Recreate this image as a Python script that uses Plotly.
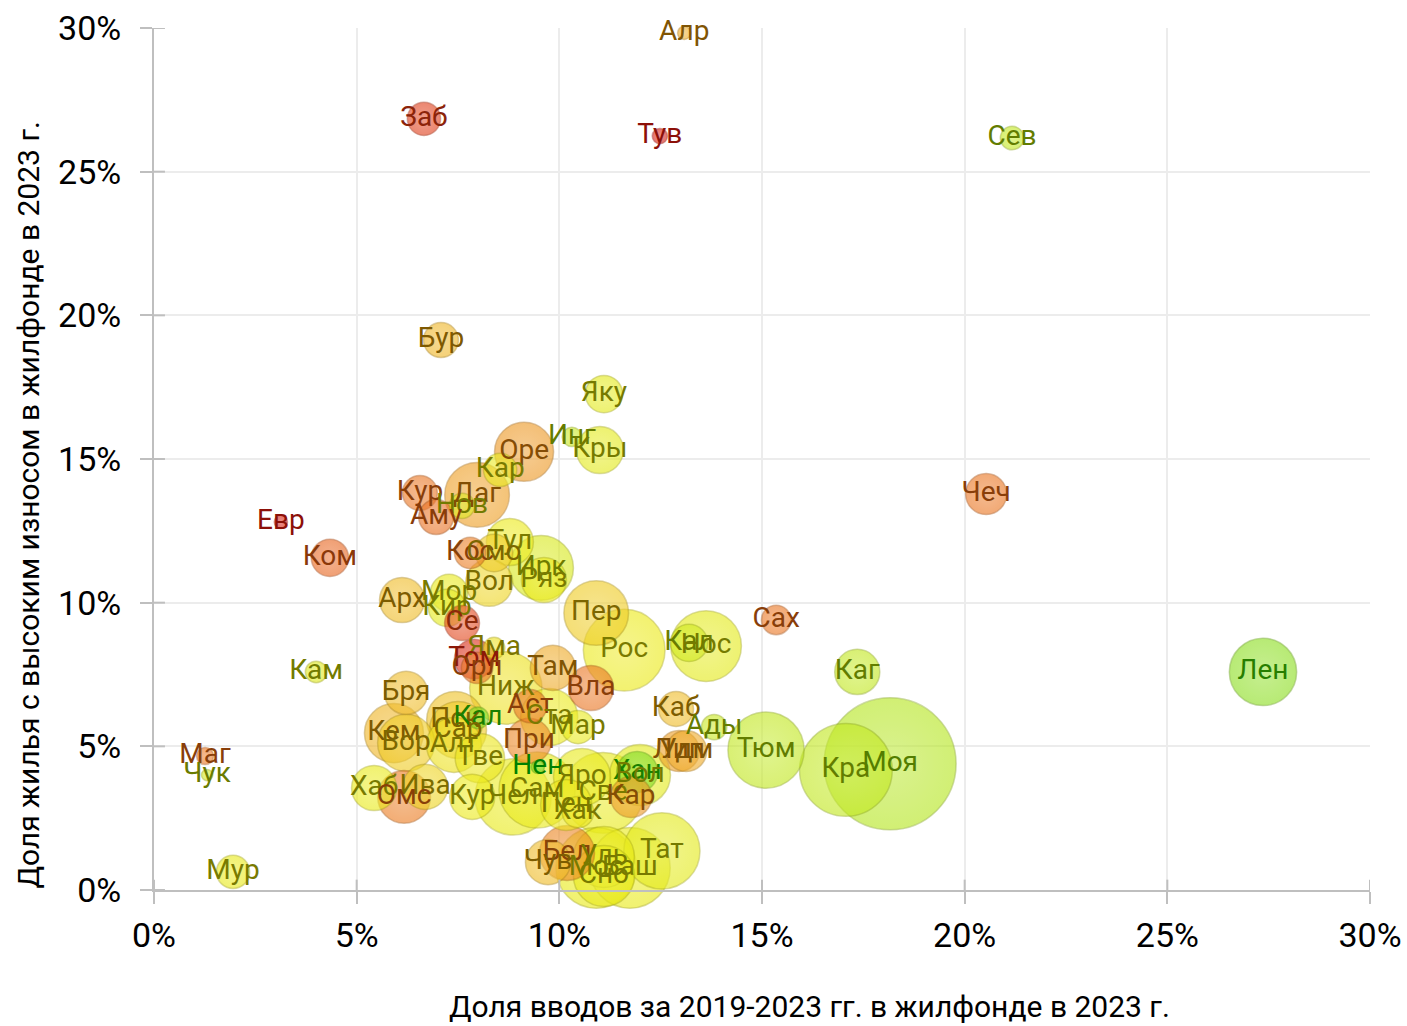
import plotly.graph_objects as go

# Регионы: сокращение, доля вводов 2019-2023 (%), доля ветхого жилья (%),
# жилфонд (условные единицы, задаёт площадь пузыря), цветовой индекс 0..1
regions = ["Алр", "Заб", "Тув", "Сев", "Бур", "Яку", "Инг", "Кры", "Оре", "Кар",
           "Даг", "Кур", "Нов", "Аму", "Евр", "Ком", "Тул", "Кос", "Смо", "Ирк",
           "Ряз", "Вол", "Арх", "Мор", "Кир", "Пер", "Рос", "Се", "Яма", "Том",
           "Орл", "Там", "Ниж", "Вла", "Кал", "Нос", "Сах", "Каг", "Лен", "Кам",
           "Бря", "Пск", "Кал", "Сар", "Аст", "Ста", "Мар", "Каб", "Ады", "Кем",
           "Вор", "Алт", "При", "Тве", "Лип", "Удм", "Тюм", "Кра", "Моя", "Маг",
           "Чук", "Мур", "Нен", "Хаб", "Ива", "Омс", "Кур", "Чел", "Сам", "Яро",
           "Све", "Хан", "Вол", "Кар", "Пен", "Хак", "Тат", "Бел", "Чув", "Уль",
           "Мос", "Баш", "Сно", "Чеч"]

new_share = [13.08, 6.66, 12.48, 21.17, 7.08, 11.10, 10.31, 11.00, 9.13, 8.54,
             7.97, 6.56, 7.60, 6.96, 3.13, 4.34, 8.78, 7.80, 8.39, 9.55,
             9.62, 8.27, 6.12, 7.28, 7.23, 10.91, 11.60, 7.60, 8.39, 7.90,
             7.97, 9.84, 8.68, 10.78, 13.20, 13.62, 15.35, 17.35, 27.36, 4.00,
             6.22, 7.43, 7.99, 7.50, 9.28, 9.75, 10.46, 12.88, 13.82, 5.92,
             6.22, 7.40, 9.25, 8.04, 12.95, 13.13, 15.10, 17.07, 18.16, 1.26,
             1.31, 1.95, 9.47, 5.43, 6.69, 6.17, 7.85, 8.86, 9.45, 10.56,
             11.08, 11.92, 11.99, 11.77, 10.17, 10.46, 12.53, 10.19, 9.72, 11.10,
             10.91, 11.74, 11.10, 20.53]

worn_share = [29.83, 26.84, 26.24, 26.17, 19.14, 17.26, 15.77, 15.31, 15.25, 14.62,
              13.75, 13.82, 13.37, 12.98, 12.81, 11.56, 12.11, 11.73, 11.73, 11.21,
              10.79, 10.69, 10.09, 10.34, 9.82, 9.64, 8.35, 9.29, 8.42, 8.04,
              7.73, 7.73, 7.03, 7.03, 8.60, 8.49, 9.40, 7.59, 7.59, 7.59,
              6.86, 5.92, 5.99, 5.57, 6.40, 6.02, 5.67, 6.30, 5.67, 5.46,
              5.12, 5.05, 5.19, 4.59, 4.84, 4.84, 4.87, 4.18, 4.39, 4.66,
              4.00, 0.63, 4.28, 3.55, 3.59, 3.24, 3.24, 3.24, 3.48, 3.93,
              3.38, 4.11, 4.00, 3.24, 2.96, 2.71, 1.36, 1.29, 0.97, 1.15,
              0.77, 0.77, 0.49, 13.78]

stock = [3.0, 19, 4.0, 9.5, 21, 24, 6.5, 38, 60, 19,
         72, 21, 11, 21, 3.0, 24, 38, 17, 24, 72,
         35, 38, 35, 24, 24, 72, 115, 21, 8, 27,
         17, 35, 90, 35, 24, 86, 15, 35, 78, 8,
         32, 56, 8, 56, 19, 56, 19, 21, 11, 60,
         56, 52, 35, 42, 29, 29, 100, 148, 300, 5,
         2.2, 19, 3.0, 35, 35, 48, 35, 100, 100, 56,
         112, 29, 64, 29, 45, 17, 100, 52, 35, 64,
         112, 112, 64, 29]

color_index = [0.45, 0.12, 0.0, 0.8, 0.48, 0.68, 0.78, 0.68, 0.4, 0.66,
               0.42, 0.3, 0.7, 0.28, 0.0, 0.25, 0.65, 0.32, 0.55, 0.72,
               0.65, 0.58, 0.5, 0.66, 0.68, 0.55, 0.65, 0.15, 0.62, 0.05,
               0.3, 0.45, 0.62, 0.3, 0.75, 0.68, 0.3, 0.8, 0.92, 0.7,
               0.5, 0.52, 0.95, 0.55, 0.3, 0.65, 0.66, 0.5, 0.78, 0.48,
               0.55, 0.62, 0.35, 0.64, 0.42, 0.45, 0.8, 0.8, 0.83, 0.3,
               0.75, 0.66, 1.0, 0.66, 0.58, 0.32, 0.65, 0.66, 0.66, 0.66,
               0.66, 0.95, 0.68, 0.4, 0.64, 0.64, 0.68, 0.35, 0.5, 0.66,
               0.66, 0.66, 0.66, 0.3]

x_ticks = [0, 5, 10, 15, 20, 25, 30]
y_ticks = [0, 5, 10, 15, 20, 25, 30]
x_title = "Доля вводов за 2019-2023 гг. в жилфонде в 2023 г."
y_title = "Доля жилья с высоким износом в жилфонде в 2023 г."

FONT = "Liberation Sans Narrow, Arial Narrow, Roboto, sans-serif"

# bubble fill / label colour ramps (red -> orange -> yellow -> green)
fill_stops = [(0.0, (214, 30, 20)), (0.2, (230, 84, 30)), (0.35, (236, 134, 34)),
              (0.5, (240, 188, 38)), (0.65, (236, 234, 24)), (0.8, (194, 232, 30)),
              (1.0, (104, 216, 34))]
text_stops = [(0.0, (140, 16, 8)), (0.2, (140, 50, 10)), (0.35, (135, 68, 8)),
              (0.5, (125, 92, 0)), (0.65, (122, 122, 0)), (0.8, (98, 124, 0)),
              (1.0, (0, 128, 0))]


def ramp(stops, t):
    for (t0, c0), (t1, c1) in zip(stops[:-1], stops[1:]):
        if t <= t1:
            f = 0 if t1 == t0 else (t - t0) / (t1 - t0)
            return tuple(round(a + (b - a) * f) for a, b in zip(c0, c1))
    return stops[-1][1]


def rgb(c, a=1.0):
    return f"rgba({c[0]},{c[1]},{c[2]},{a})"


def lighten(c, k):
    return tuple(round(v + (255 - v) * k) for v in c)


def darken(c, k):
    return tuple(round(v * (1 - k)) for v in c)


# draw big bubbles first so small ones stay visible on top
order = sorted(range(len(regions)), key=lambda i: -stock[i])
xs = [new_share[i] for i in order]
ys = [worn_share[i] for i in order]
ss = [stock[i] for i in order]
fills = [ramp(fill_stops, color_index[i]) for i in order]

fig = go.Figure()
fig.add_trace(go.Scatter(
    x=xs, y=ys, mode="markers", hoverinfo="skip", showlegend=False, cliponaxis=False,
    marker=dict(
        size=ss, sizemode="area", sizeref=2 * 300 / (132 ** 2), sizemin=5,
        color=[rgb(c, 0.88) for c in fills],
        gradient=dict(type="radial", color=[rgb(lighten(c, 0.2), 0.88) for c in fills]),
        line=dict(color=[rgb(darken(c, 0.3), 0.55) for c in fills], width=1.5),
    ),
))
fig.add_trace(go.Scatter(
    x=new_share, y=worn_share, mode="text", text=regions, hoverinfo="skip",
    showlegend=False, textposition="middle center", cliponaxis=False,
    textfont=dict(family=FONT, size=28,
                  color=[rgb(ramp(text_stops, t)) for t in color_index]),
))

axis_common = dict(
    range=[0, 30], tickvals=x_ticks, ticktext=[f"{v}%" for v in x_ticks],
    showgrid=True, gridcolor="#ececec", gridwidth=2, automargin=False,
    zeroline=False, showline=True, linecolor="#bfbfbf", linewidth=2,
    ticks="outside", ticklen=12, tickcolor="#bfbfbf", tickwidth=2,
    tickfont=dict(family=FONT, size=34, color="#000"),
)
fig.update_xaxes(**axis_common, ticklabelstandoff=2)
fig.update_yaxes(**axis_common, ticklabelstandoff=12)

# tick marks crossing the axis lines (inner half)
for v in x_ticks:
    fig.add_shape(type="line", xref="x", yref="paper", x0=v, x1=v, y0=0, y1=0.012,
                  line=dict(color="#bfbfbf", width=2))
for v in y_ticks:
    fig.add_shape(type="line", xref="paper", yref="y", x0=0, x1=0.009, y0=v, y1=v,
                  line=dict(color="#bfbfbf", width=2))

# axis titles
fig.add_annotation(text=x_title, xref="paper", yref="paper", x=0.539, y=-0.1346,
                   showarrow=False, xanchor="center", yanchor="middle",
                   font=dict(family=FONT, size=30, color="#000"))
fig.add_annotation(text=y_title, xref="paper", yref="paper", x=-0.104, y=0.4466,
                   showarrow=False, xanchor="center", yanchor="middle", textangle=-90,
                   font=dict(family=FONT, size=30, color="#000"))

fig.update_layout(
    width=1407, height=1026,
    margin=dict(l=154, r=37, t=28, b=136),
    plot_bgcolor="white", paper_bgcolor="white",
)

fig.write_html("out.html")
